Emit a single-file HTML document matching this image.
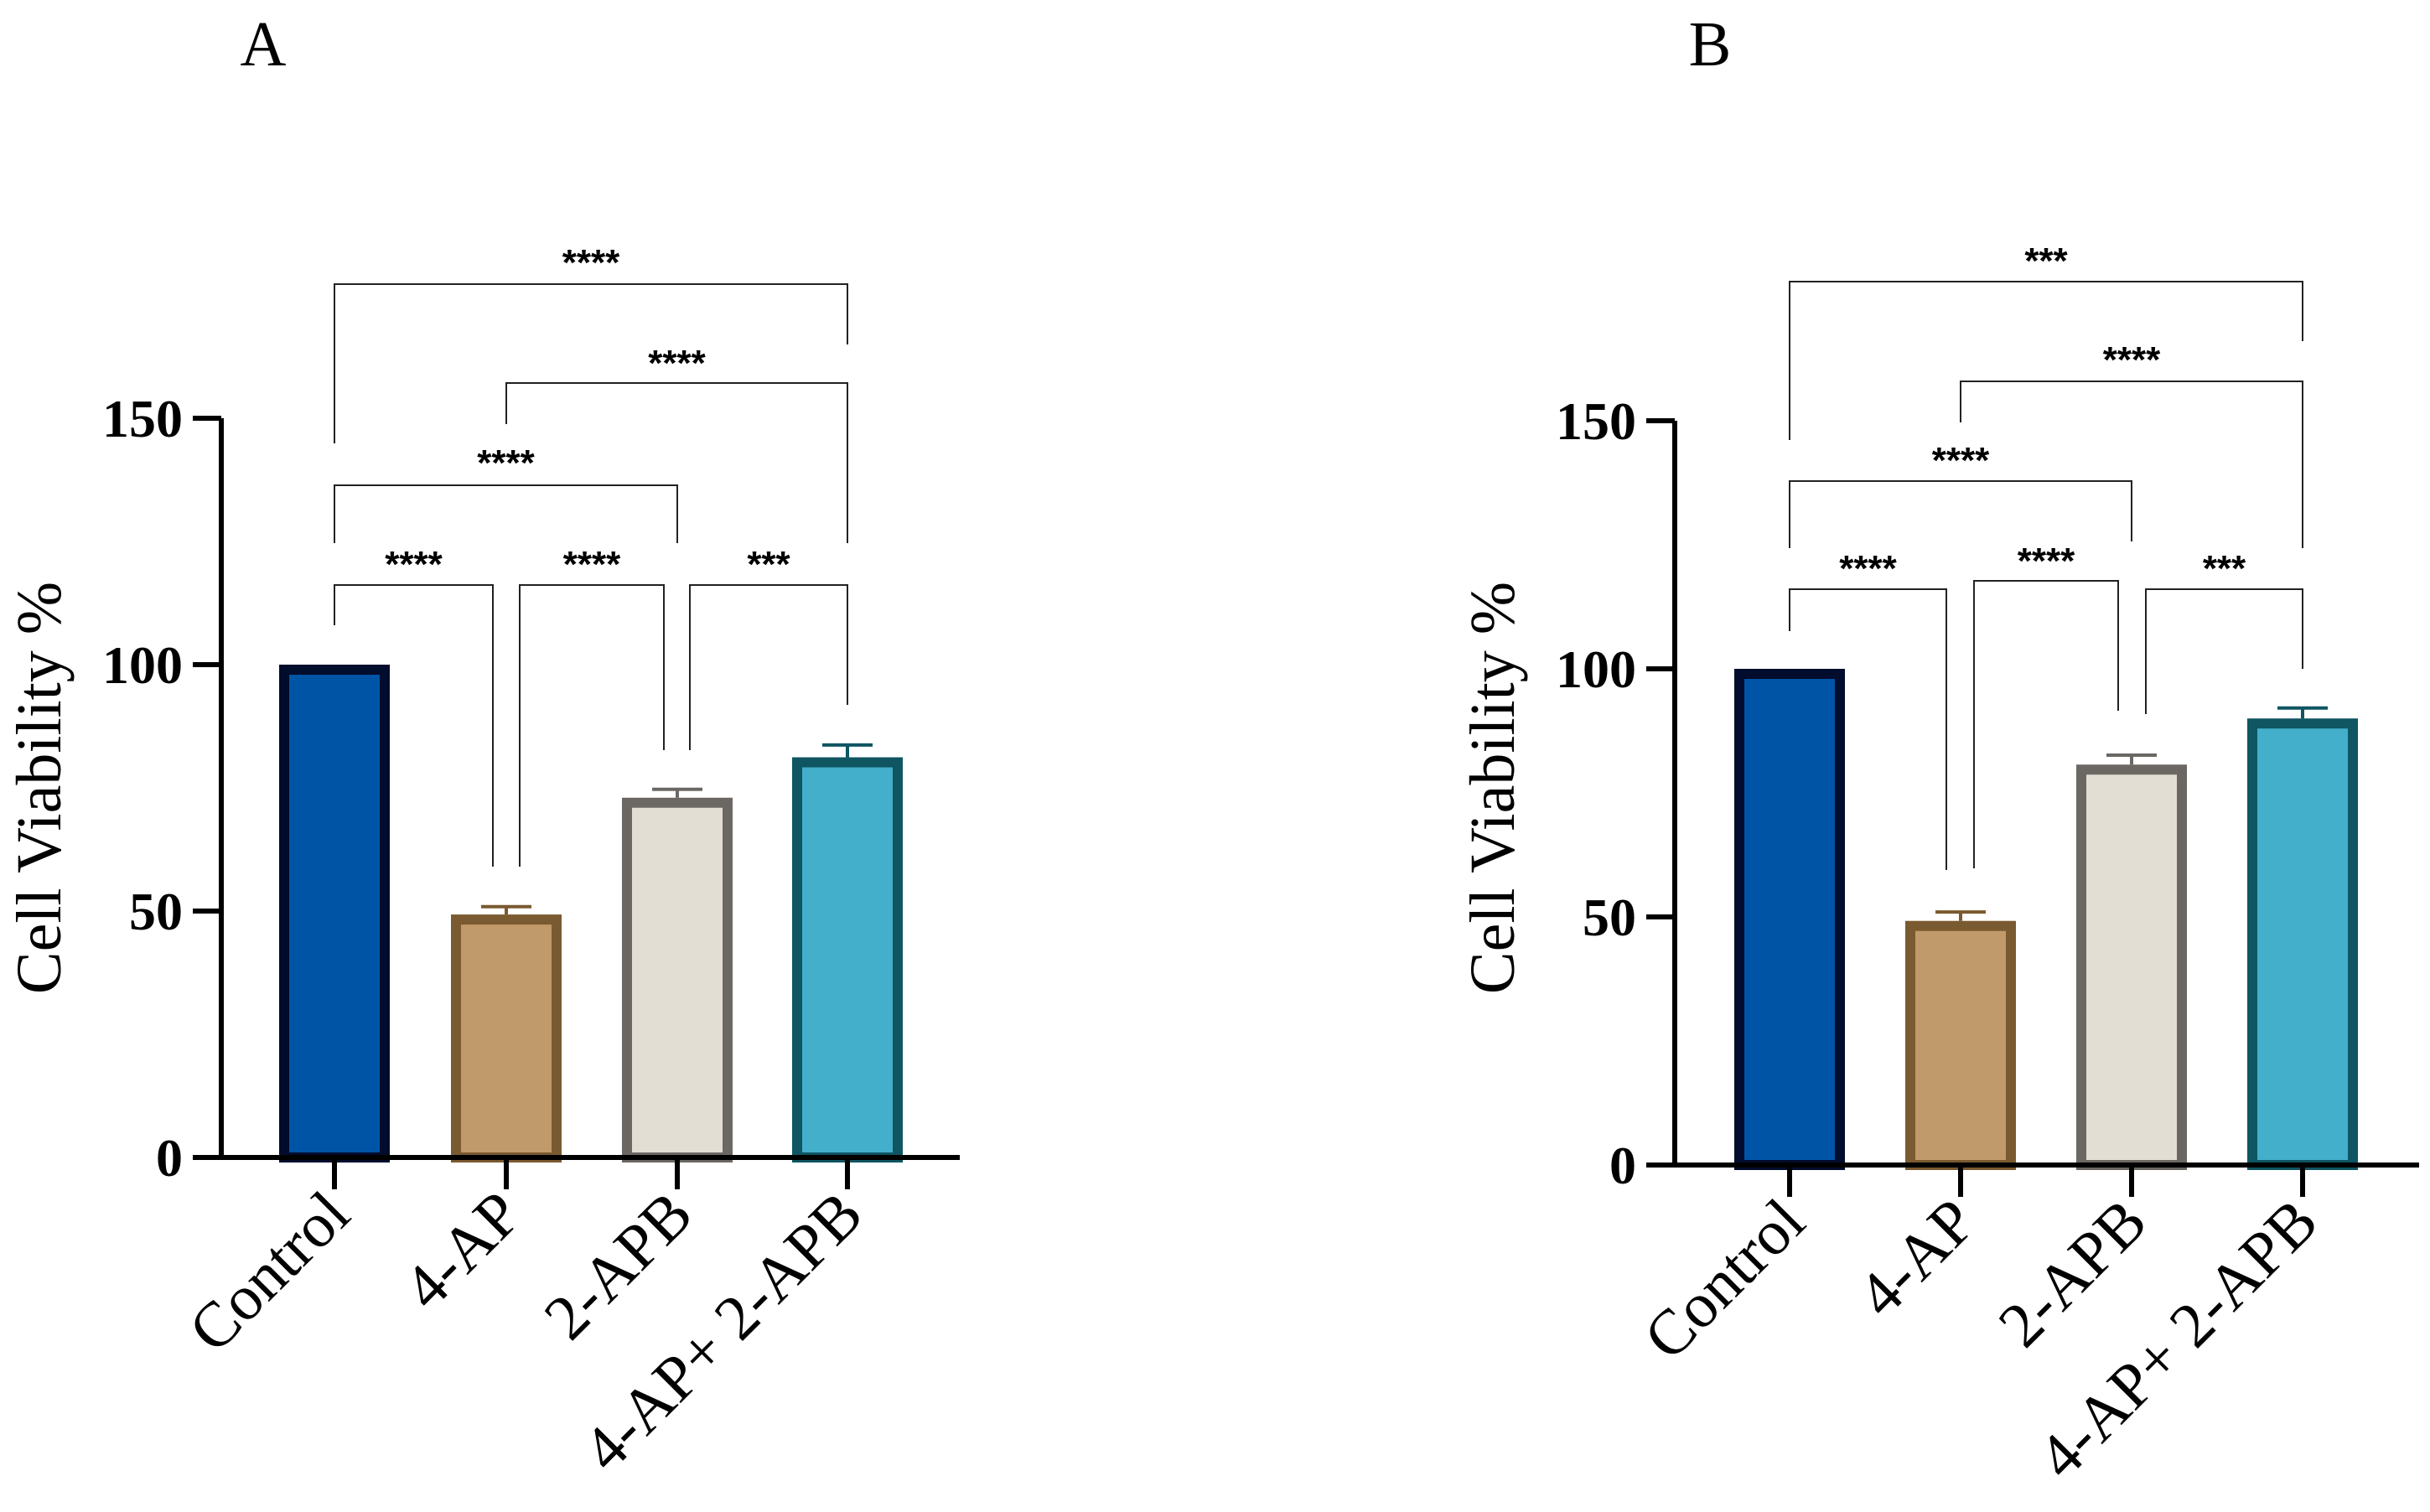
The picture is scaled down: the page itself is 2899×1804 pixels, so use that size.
<!DOCTYPE html>
<html><head><meta charset="utf-8"><style>
html,body{margin:0;padding:0;background:#fff;}
svg{display:block;}
</style></head><body>
<svg id="chart" width="2899" height="1804" viewBox="0 0 2899 1804" xmlns="http://www.w3.org/2000/svg"></svg>
<script>
const categories = ["Control", "4-AP", "2-APB", "4-AP+ 2-APB"];
const valuesA = [100, 49.3, 73, 81.2];
const errorsA = [0, 1.6, 1.7, 2.5];
const valuesB = [100, 49.2, 80.7, 90];
const errorsB = [0, 1.8, 1.9, 2.1];
const yTicks = [0, 50, 100, 150];
const sigA = ["****", "****", "****", "****", "****", "***"];
const sigB = ["***", "****", "****", "****", "****", "***"];
const fills = ["#0054a6", "#c19a6b", "#e3ded3", "#43afcb"];
const strokes = ["#020c2c", "#7a5a30", "#6b6864", "#0f5562"];

const SERIF = "'Liberation Serif', serif";
const NS = "http://www.w3.org/2000/svg";
const svg = document.getElementById("chart");
function mk(tag, attrs, parent, text) {
  const e = document.createElementNS(NS, tag);
  for (const k in attrs) e.setAttribute(k, attrs[k]);
  if (text !== undefined) e.textContent = text;
  (parent || svg).appendChild(e);
  return e;
}

const panels = [
  { id: "a", letter: "A", letterX: 314, axisX: 264, axisEnd: 1145, y0: 1381, y150: 499,
    cx: [399, 604, 808, 1011], values: valuesA, errors: errorsA, sig: sigA, titleX: 46,
    brackets: [
      { x1: 399, x2: 1011, y: 339, l: 529, r: 411, t: 302 },
      { x1: 604, x2: 1011, y: 457, l: 506, r: 648, t: 422 },
      { x1: 399, x2: 808, y: 579, l: 648, r: 648, t: 541 },
      { x1: 399, x2: 588, y: 698, l: 746, r: 1034, t: 662 },
      { x1: 620, x2: 792, y: 698, l: 1034, r: 895, t: 662 },
      { x1: 823, x2: 1011, y: 698, l: 895, r: 841, t: 662 } ] },
  { id: "b", letter: "B", letterX: 2040, axisX: 1998, axisEnd: 2886, y0: 1390, y150: 502,
    cx: [2135, 2339, 2543, 2747], values: valuesB, errors: errorsB, sig: sigB, titleX: 1780,
    brackets: [
      { x1: 2135, x2: 2747, y: 336, l: 525, r: 407, t: 300 },
      { x1: 2339, x2: 2747, y: 455, l: 504, r: 654, t: 418 },
      { x1: 2135, x2: 2543, y: 574, l: 654, r: 646, t: 538 },
      { x1: 2135, x2: 2322, y: 703, l: 753, r: 1038, t: 667 },
      { x1: 2355, x2: 2527, y: 693, l: 1036, r: 848, t: 658 },
      { x1: 2560, x2: 2747, y: 703, l: 852, r: 798, t: 667 } ] }
];

panels.forEach(p => {
  const g = mk("g", {});
  
  
  const yS = v => p.y0 - (p.y0 - p.y150) * v / 150;

  const lt = mk("text", { x: p.letterX, y: 78, "font-family": SERIF, "font-size": 76, "text-anchor": "middle", fill: "#000" }, g, p.letter);
  
  

  const tt = mk("text", { x: 0, y: 0, transform: `translate(${p.titleX + 26},${940}) rotate(-90)`, "font-family": SERIF, "font-size": 76, "text-anchor": "middle", fill: "#000" }, g, "Cell Viability %");
  
  

  categories.forEach((c, i) => {
    const v = p.values[i], top = yS(v), sw = 12, hw = 66;
    const r = mk("rect", { x: p.cx[i] - hw + sw / 2, y: top + sw / 2, width: 2 * hw - sw, height: p.y0 - top - sw / 2, fill: fills[i], stroke: strokes[i], "stroke-width": sw }, g);
    
    
    if (p.errors[i] > 0) {
      const et = yS(v + p.errors[i]);
      const eb = mk("path", { d: `M${p.cx[i]},${top} V${et} M${p.cx[i] - 30},${et} H${p.cx[i] + 30}`, stroke: strokes[i], "stroke-width": 4, fill: "none" }, g);
      
      
    }
  });

  const ax = mk("path", { d: `M${p.axisX},${yS(150)} V${p.y0} M${p.axisX - 3},${p.y0} H${p.axisEnd}`, stroke: "#000", "stroke-width": 6, fill: "none" }, g);
  
  

  yTicks.forEach(t => {
    const y = yS(t);
    const tk = mk("line", { x1: p.axisX - 34, x2: p.axisX, y1: y, y2: y, stroke: "#000", "stroke-width": 6 }, g);
    
    
    const tl = mk("text", { x: p.axisX - 46, y: y + 22, "font-family": SERIF, "font-weight": "bold", "font-size": 64, "text-anchor": "end", fill: "#000" }, g, String(t));
    
    
  });

  categories.forEach((c, i) => {
    const x = p.cx[i];
    const tk = mk("line", { x1: x, x2: x, y1: p.y0, y2: p.y0 + 38, stroke: "#000", "stroke-width": 6 }, g);
    
    
    const tl = mk("text", { x: 0, y: 0, transform: `translate(${x + 22},${p.y0 + 72}) rotate(-45)`, "font-family": SERIF, "font-size": 76, "text-anchor": "end", fill: "#000" }, g, c);
    
    
  });

  p.brackets.forEach((b, k) => {
    const br = mk("path", { d: `M${b.x1},${b.l} V${b.y} H${b.x2} V${b.r}`, stroke: "#222", "stroke-width": 2, fill: "none" }, g);
    
    
    const st = mk("text", { x: (b.x1 + b.x2) / 2, y: b.t + 26, "font-family": "'Liberation Sans', sans-serif", "font-weight": "bold", "font-size": 44, "text-anchor": "middle", fill: "#000" }, g, p.sig[k]);
    
    
  });
});
</script>
</body></html>
